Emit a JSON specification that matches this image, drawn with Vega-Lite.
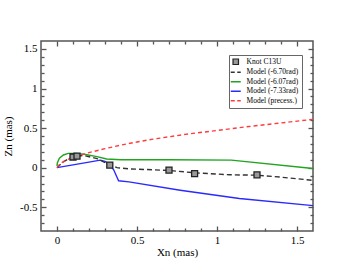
{
  "$schema": "https://vega.github.io/schema/vega-lite/v6.json",
  "width": 272,
  "height": 190,
  "autosize": {"type": "none"},
  "padding": {"left": 41, "top": 41, "right": 40, "bottom": 42},
  "background": "white",
  "config": {
    "view": {"stroke": "#555555", "strokeWidth": 1.5},
    "axis": {
      "grid": false,
      "domain": false,
      "labelFont": "Liberation Serif",
      "labelFontSize": 11,
      "labelColor": "#000000",
      "titleFont": "Liberation Serif",
      "titleFontSize": 11,
      "titleFontWeight": "normal",
      "titleColor": "#000000",
      "tickColor": "#555555",
      "tickWidth": 1.3,
      "zindex": 2
    }
  },
  "data": {
    "values": [
      {"s": "Knot C13U", "i": 0, "x": 0.10, "z": 0.135},
      {"s": "Knot C13U", "i": 1, "x": 0.125, "z": 0.145},
      {"s": "Knot C13U", "i": 2, "x": 0.33, "z": 0.033},
      {"s": "Knot C13U", "i": 3, "x": 0.70, "z": -0.03},
      {"s": "Knot C13U", "i": 4, "x": 0.86, "z": -0.075},
      {"s": "Knot C13U", "i": 5, "x": 1.25, "z": -0.09},
      {"s": "Model (-6.70rad)", "i": 0, "x": 0.0, "z": 0.0},
      {"s": "Model (-6.70rad)", "i": 1, "x": 0.03, "z": 0.06},
      {"s": "Model (-6.70rad)", "i": 2, "x": 0.07, "z": 0.11},
      {"s": "Model (-6.70rad)", "i": 3, "x": 0.11, "z": 0.14},
      {"s": "Model (-6.70rad)", "i": 4, "x": 0.165, "z": 0.155},
      {"s": "Model (-6.70rad)", "i": 5, "x": 0.25, "z": 0.115},
      {"s": "Model (-6.70rad)", "i": 6, "x": 0.33, "z": 0.035},
      {"s": "Model (-6.70rad)", "i": 7, "x": 0.375, "z": 0.0},
      {"s": "Model (-6.70rad)", "i": 8, "x": 0.45, "z": -0.015},
      {"s": "Model (-6.70rad)", "i": 9, "x": 0.70, "z": -0.035},
      {"s": "Model (-6.70rad)", "i": 10, "x": 0.86, "z": -0.065},
      {"s": "Model (-6.70rad)", "i": 11, "x": 1.08, "z": -0.09},
      {"s": "Model (-6.70rad)", "i": 12, "x": 1.25, "z": -0.095},
      {"s": "Model (-6.70rad)", "i": 13, "x": 1.4, "z": -0.12},
      {"s": "Model (-6.70rad)", "i": 14, "x": 1.6, "z": -0.16},
      {"s": "Model (-6.07rad)", "i": 0, "x": 0.0, "z": 0.02},
      {"s": "Model (-6.07rad)", "i": 1, "x": 0.002, "z": 0.06},
      {"s": "Model (-6.07rad)", "i": 2, "x": 0.015, "z": 0.12},
      {"s": "Model (-6.07rad)", "i": 3, "x": 0.04, "z": 0.16},
      {"s": "Model (-6.07rad)", "i": 4, "x": 0.07, "z": 0.18},
      {"s": "Model (-6.07rad)", "i": 5, "x": 0.12, "z": 0.18},
      {"s": "Model (-6.07rad)", "i": 6, "x": 0.17, "z": 0.17},
      {"s": "Model (-6.07rad)", "i": 7, "x": 0.25, "z": 0.14},
      {"s": "Model (-6.07rad)", "i": 8, "x": 0.31, "z": 0.11},
      {"s": "Model (-6.07rad)", "i": 9, "x": 0.4, "z": 0.1},
      {"s": "Model (-6.07rad)", "i": 10, "x": 0.7, "z": 0.1},
      {"s": "Model (-6.07rad)", "i": 11, "x": 1.09, "z": 0.095},
      {"s": "Model (-6.07rad)", "i": 12, "x": 1.6, "z": -0.01},
      {"s": "Model (-7.33rad)", "i": 0, "x": 0.0, "z": 0.0},
      {"s": "Model (-7.33rad)", "i": 1, "x": 0.1, "z": 0.035},
      {"s": "Model (-7.33rad)", "i": 2, "x": 0.2, "z": 0.07},
      {"s": "Model (-7.33rad)", "i": 3, "x": 0.27, "z": 0.095},
      {"s": "Model (-7.33rad)", "i": 4, "x": 0.3, "z": 0.08},
      {"s": "Model (-7.33rad)", "i": 5, "x": 0.33, "z": 0.04},
      {"s": "Model (-7.33rad)", "i": 6, "x": 0.355, "z": -0.03},
      {"s": "Model (-7.33rad)", "i": 7, "x": 0.375, "z": -0.12},
      {"s": "Model (-7.33rad)", "i": 8, "x": 0.385, "z": -0.165},
      {"s": "Model (-7.33rad)", "i": 9, "x": 0.45, "z": -0.18},
      {"s": "Model (-7.33rad)", "i": 10, "x": 0.77, "z": -0.285},
      {"s": "Model (-7.33rad)", "i": 11, "x": 1.14, "z": -0.39},
      {"s": "Model (-7.33rad)", "i": 12, "x": 1.6, "z": -0.48},
      {"s": "Model (precess.)", "i": 0, "x": 0.0, "z": 0.0},
      {"s": "Model (precess.)", "i": 1, "x": 0.02, "z": 0.05},
      {"s": "Model (precess.)", "i": 2, "x": 0.05, "z": 0.09},
      {"s": "Model (precess.)", "i": 3, "x": 0.1, "z": 0.13},
      {"s": "Model (precess.)", "i": 4, "x": 0.2, "z": 0.19},
      {"s": "Model (precess.)", "i": 5, "x": 0.3, "z": 0.24},
      {"s": "Model (precess.)", "i": 6, "x": 0.4, "z": 0.285},
      {"s": "Model (precess.)", "i": 7, "x": 0.5, "z": 0.325},
      {"s": "Model (precess.)", "i": 8, "x": 0.6, "z": 0.36},
      {"s": "Model (precess.)", "i": 9, "x": 0.7, "z": 0.39},
      {"s": "Model (precess.)", "i": 10, "x": 0.8, "z": 0.42},
      {"s": "Model (precess.)", "i": 11, "x": 1.0, "z": 0.47},
      {"s": "Model (precess.)", "i": 12, "x": 1.2, "z": 0.52},
      {"s": "Model (precess.)", "i": 13, "x": 1.4, "z": 0.565},
      {"s": "Model (precess.)", "i": 14, "x": 1.6, "z": 0.61}
    ]
  },
  "resolve": {"axis": {"x": "independent", "y": "independent"}},
  "layer": [
    {
      "transform": [{"filter": "datum.s === 'Model (-6.07rad)'"}],
      "mark": {"type": "line", "strokeWidth": 1.4},
      "encoding": {
        "x": {"field": "x", "type": "quantitative",
              "scale": {"domain": [-0.1, 1.6], "nice": false, "zero": false},
              "axis": {"orient": "bottom", "values": [0, 0.5, 1, 1.5], "ticks": false, "labelPadding": 3, "labelExpr": "'' + datum.value", "title": "Xn (mas)", "titlePadding": 1}},
        "y": {"field": "z", "type": "quantitative",
              "scale": {"domain": [-0.8, 1.6], "nice": false, "zero": false},
              "axis": {"orient": "left", "values": [-0.5, 0, 0.5, 1, 1.5], "ticks": false, "labelPadding": 4, "labelExpr": "'' + datum.value", "title": "Zn (mas)", "titlePadding": 6}},
        "order": {"field": "i"},
        "color": {"field": "s", "type": "nominal",
                  "scale": {"domain": ["Knot C13U", "Model (-6.70rad)", "Model (-6.07rad)", "Model (-7.33rad)", "Model (precess.)"],
                            "range": ["#222222", "#333333", "#22a322", "#2a2aff", "#ff3b3b"]},
                  "legend": {
                    "title": null,
                    "orient": "none",
                    "legendX": 188,
                    "legendY": 14,
                    "padding": 3,
                    "fillColor": "white",
                    "strokeColor": "#666666",
                    "labelFont": "Liberation Serif",
                    "labelFontSize": 7.5,
                    "labelColor": "#000000",
                    "labelOffset": 7,
                    "rowPadding": 0.5,
                    "symbolType": "stroke",
                    "symbolStrokeWidth": 1.5,
                    "symbolSize": 64,
                    "encode": {
                      "symbols": {
                        "update": {
                          "shape": {"signal": "datum.value === 'Knot C13U' ? 'square' : 'stroke'"},
                          "fill": {"signal": "datum.value === 'Knot C13U' ? '#999999' : 'transparent'"},
                          "size": {"signal": "datum.value === 'Knot C13U' ? 30 : 100"},
                          "strokeWidth": {"signal": "datum.value === 'Knot C13U' ? 1.2 : 1.5"},
                          "strokeDash": {"signal": "(datum.value === 'Model (-6.70rad)' || datum.value === 'Model (precess.)') ? [4, 2.5] : [1, 0]"}
                        }
                      }
                    }
                  }}
      }
    },
    {
      "transform": [{"filter": "datum.s === 'Model (-7.33rad)'"}],
      "mark": {"type": "line", "strokeWidth": 1.4},
      "encoding": {
        "x": {"field": "x", "type": "quantitative",
              "axis": {"orient": "bottom", "values": [0, 0.5, 1, 1.5], "labels": false, "offset": -5, "tickSize": 5, "title": null}},
        "y": {"field": "z", "type": "quantitative",
              "axis": {"orient": "left", "values": [-0.5, 0, 0.5, 1, 1.5], "labels": false, "offset": -5, "tickSize": 5, "title": null}},
        "order": {"field": "i"},
        "color": {"field": "s", "type": "nominal"}
      }
    },
    {
      "transform": [{"filter": "datum.s === 'Model (-6.70rad)'"}],
      "mark": {"type": "line", "strokeWidth": 1.4, "strokeDash": [5, 3]},
      "encoding": {
        "x": {"field": "x", "type": "quantitative",
              "axis": {"orient": "bottom", "values": [0.1, 0.2, 0.3, 0.4, 0.6, 0.7, 0.8, 0.9, 1.1, 1.2, 1.3, 1.4], "labels": false, "offset": -3, "tickSize": 3, "title": null}},
        "y": {"field": "z", "type": "quantitative",
              "axis": {"orient": "left", "values": [-0.7, -0.6, -0.4, -0.3, -0.2, -0.1, 0.1, 0.2, 0.3, 0.4, 0.6, 0.7, 0.8, 0.9, 1.1, 1.2, 1.3, 1.4], "labels": false, "offset": -3, "tickSize": 3, "title": null}},
        "order": {"field": "i"},
        "color": {"field": "s", "type": "nominal"}
      }
    },
    {
      "transform": [{"filter": "datum.s === 'Model (precess.)'"}],
      "mark": {"type": "line", "strokeWidth": 1.4, "strokeDash": [4, 3]},
      "encoding": {
        "x": {"field": "x", "type": "quantitative",
              "axis": {"orient": "top", "values": [0, 0.5, 1, 1.5], "labels": false, "offset": -5, "tickSize": 5, "title": null}},
        "y": {"field": "z", "type": "quantitative",
              "axis": {"orient": "right", "values": [-0.5, 0, 0.5, 1, 1.5], "labels": false, "offset": -5, "tickSize": 5, "title": null}},
        "order": {"field": "i"},
        "color": {"field": "s", "type": "nominal"}
      }
    },
    {
      "transform": [{"filter": "datum.s === 'Knot C13U'"}],
      "mark": {"type": "point", "shape": "square", "filled": true, "fill": "#999999", "stroke": "#222222", "strokeWidth": 1.3, "size": 36, "opacity": 1},
      "encoding": {
        "x": {"field": "x", "type": "quantitative",
              "axis": {"orient": "top", "values": [0.1, 0.2, 0.3, 0.4, 0.6, 0.7, 0.8, 0.9, 1.1, 1.2, 1.3, 1.4], "labels": false, "offset": -3, "tickSize": 3, "title": null}},
        "y": {"field": "z", "type": "quantitative",
              "axis": {"orient": "right", "values": [-0.7, -0.6, -0.4, -0.3, -0.2, -0.1, 0.1, 0.2, 0.3, 0.4, 0.6, 0.7, 0.8, 0.9, 1.1, 1.2, 1.3, 1.4], "labels": false, "offset": -3, "tickSize": 3, "title": null}}
      }
    }
  ]
}
